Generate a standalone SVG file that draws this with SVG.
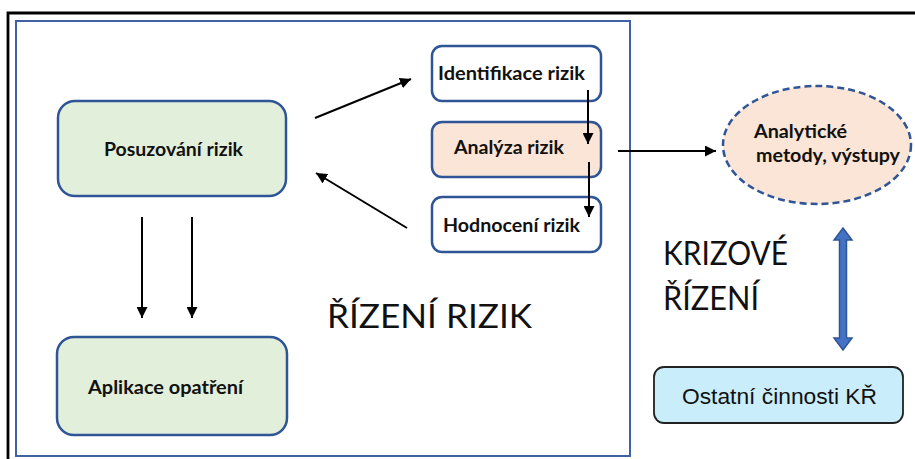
<svg xmlns="http://www.w3.org/2000/svg" width="915" height="459" viewBox="0 0 915 459">
<style>
.node{stroke:#2F5597;stroke-width:2.5}
.green{fill:#E2EFDA}
.white{fill:#FFFFFF}
.peach{fill:#FBE5D6}
.lbl{font-family:Lato,"Noto Sans","Liberation Sans",sans-serif;font-weight:bold;font-size:19px;fill:#111}
.big{font-family:Lato,"Noto Sans","Liberation Sans",sans-serif;font-size:32px;fill:#111}
.conn{stroke:#000;stroke-width:2;fill:none;marker-end:url(#ah)}
</style>
<defs>
<marker id="ah" markerUnits="userSpaceOnUse" markerWidth="11" markerHeight="11" refX="11" refY="5.5" orient="auto">
<path d="M0,0 L11,5.5 L0,11 z" fill="#000"/>
</marker>
</defs>
<rect width="915" height="459" fill="#fff"/>
<g id="frame">
<path d="M8,459 V13 H915" fill="none" stroke="#000" stroke-width="2.8"/>
<rect x="16" y="21" width="614" height="435" fill="none" stroke="#3F61A3" stroke-width="2"/>
</g>
<g id="posuzovani">
<rect class="node green" x="58" y="101" width="228" height="95" rx="17"/>
<text class="lbl" x="104" y="156" textLength="139" lengthAdjust="spacingAndGlyphs">Posuzování rizik</text>
</g>
<g id="aplikace">
<rect class="node green" x="57" y="337" width="230" height="98" rx="17"/>
<text class="lbl" x="88" y="394" textLength="155" lengthAdjust="spacingAndGlyphs">Aplikace opatření</text>
</g>
<g id="identifikace">
<rect class="node white" x="432" y="46" width="169" height="55" rx="10"/>
<text class="lbl" x="438" y="80" textLength="147" lengthAdjust="spacingAndGlyphs">Identifikace rizik</text>
</g>
<g id="analyza">
<rect class="node peach" x="432" y="122" width="169" height="55" rx="10"/>
<text class="lbl" x="454" y="154" textLength="110" lengthAdjust="spacingAndGlyphs">Analýza rizik</text>
</g>
<g id="hodnoceni">
<rect class="node white" x="432" y="197" width="169" height="55" rx="10"/>
<text class="lbl" x="443" y="232" textLength="137" lengthAdjust="spacingAndGlyphs">Hodnocení rizik</text>
</g>
<g id="analyticke">
<ellipse cx="817" cy="145" rx="94" ry="59" fill="#FBE5D6" stroke="#2F5597" stroke-width="2.5" stroke-dasharray="7,4"/>
<text class="lbl" x="754" y="138" textLength="93" lengthAdjust="spacingAndGlyphs">Analytické</text>
<text class="lbl" x="756" y="162" textLength="144" lengthAdjust="spacingAndGlyphs">metody, výstupy</text>
</g>
<g id="ostatni">
<rect x="654" y="367" width="249" height="56" rx="10" fill="#C9EDFB" stroke="#222" stroke-width="1.8"/>
<text x="682" y="404" font-family="'Liberation Sans',Arial,sans-serif" font-size="22" fill="#111" textLength="195" lengthAdjust="spacingAndGlyphs">Ostatní činnosti KŘ</text>
</g>
<g id="labels">
<text class="big" x="327" y="328" textLength="205" lengthAdjust="spacingAndGlyphs">ŘÍZENÍ RIZIK</text>
<text class="big" x="663" y="265" textLength="125" lengthAdjust="spacingAndGlyphs">KRIZOVÉ</text>
<text class="big" x="663" y="310" textLength="96" lengthAdjust="spacingAndGlyphs">ŘÍZENÍ</text>
</g>
<g id="connectors">
<line class="conn" x1="315" y1="118" x2="411" y2="79"/>
<line class="conn" x1="407" y1="228" x2="316" y2="173"/>
<line class="conn" x1="142" y1="217" x2="142" y2="318"/>
<line class="conn" x1="192" y1="217" x2="192" y2="318"/>
<line class="conn" x1="588" y1="90" x2="588" y2="144"/>
<line class="conn" x1="589" y1="162" x2="589" y2="217"/>
<line class="conn" x1="618" y1="151" x2="716" y2="151"/>
<path d="M843,228 L852,240 L846.5,240 L846.5,338 L852,338 L843,350 L834,338 L839.5,338 L839.5,240 L834,240 Z" fill="#4472C4" stroke="#2F5597" stroke-width="1.5"/>
</g>
</svg>
